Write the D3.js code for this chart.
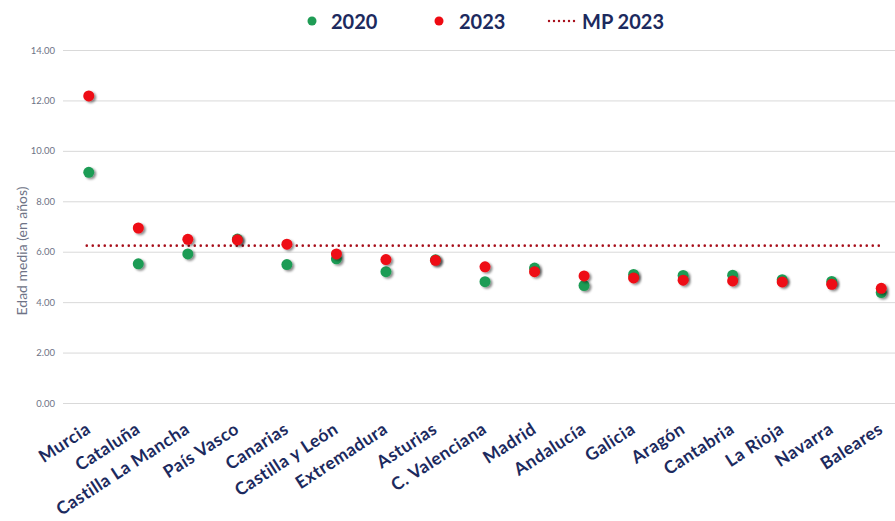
<!DOCTYPE html>
<html><head><meta charset="utf-8">
<script src="https://cdn.jsdelivr.net/npm/d3@7"></script>
<style>
html,body{margin:0;padding:0;background:#fff;}
svg{display:block;}
</style></head>
<body>
<svg id="chart" width="895" height="521"></svg>
<script>
const categories = ["Murcia","Cataluña","Castilla La Mancha","País Vasco","Canarias","Castilla y León","Extremadura","Asturias","C. Valenciana","Madrid","Andalucía","Galicia","Aragón","Cantabria","La Rioja","Navarra","Baleares"];
const values2020 = [9.15,5.52,5.91,6.50,5.49,5.72,5.21,5.68,4.81,5.35,4.66,5.10,5.06,5.07,4.89,4.82,4.38];
const values2023 = [12.18,6.94,6.49,6.47,6.30,5.91,5.69,5.66,5.40,5.21,5.04,4.96,4.87,4.84,4.80,4.71,4.55];
const mp2023 = 6.24;
const yTicks = [0,2,4,6,8,10,12,14];
const seriesNames = ["2020","2023","MP 2023"];

const svg = d3.select("#chart");
const W = 895, H = 521;
const mLeft = 64, mRight = 906, mTop = 50, mBottom = 403;

const defs = svg.append("defs");
const f = defs.append("filter").attr("id","sh").attr("x","-50%").attr("y","-50%").attr("width","200%").attr("height","200%");
f.append("feDropShadow").attr("dx",2).attr("dy",1.5).attr("stdDeviation",1.3).attr("flood-color","#000").attr("flood-opacity",0.45);

const x = d3.scaleBand().domain(categories).range([mLeft, mRight]).padding(0);
const y = d3.scaleLinear().domain([0,14]).range([mBottom, mTop]);
const cx = d => x(d) + x.bandwidth()/2;

// gridlines + y labels
const yAxis = d3.axisLeft(y).tickValues(yTicks).tickFormat(d3.format(".2f")).tickSize(-(W - 63)).tickPadding(8);
const gy = svg.append("g").attr("transform", `translate(63,0)`).call(yAxis);
gy.select(".domain").remove();
gy.selectAll(".tick line").attr("stroke","#d9d9d9").attr("stroke-width",1);
gy.selectAll(".tick text").attr("fill","#6e7386").style("font-family","Lato, sans-serif").style("font-size","9.5px");

// axis title
svg.append("text").attr("transform","translate(27,251) rotate(-90)").attr("text-anchor","middle")
  .attr("fill","#6e7386").style("font-family","Lato, sans-serif").style("font-size","14px").text("Edad media (en años)");

// x labels
const xAxis = d3.axisBottom(x).tickSize(0).tickPadding(0);
const gxa = svg.append("g").attr("transform",`translate(0,${mBottom})`).call(xAxis);
gxa.select(".domain").remove();
gxa.selectAll(".tick text")
  .attr("text-anchor","end").attr("dy",0).attr("y",0)
  .attr("transform","translate(3,29) rotate(-33)")
  .attr("fill","#1c2a5e").style("font-family","Lato, sans-serif").style("font-weight","bold")
  .style("font-size","17.5px").style("letter-spacing","0.5px");

// MP line
svg.append("line").attr("x1",cx(categories[0])-2).attr("x2",cx(categories[categories.length-1]))
  .attr("y1",y(mp2023)).attr("y2",y(mp2023))
  .attr("stroke","#a8101c").attr("stroke-width",2.6).attr("stroke-dasharray","0,6").attr("stroke-linecap","round");

// points
const r = 5.5;
svg.append("g").selectAll("circle").data(categories).join("circle")
  .attr("cx", d=>cx(d)).attr("cy",(d,i)=>y(values2020[i])).attr("r",r)
  .attr("fill","#1f9c55").attr("filter","url(#sh)");
svg.append("g").selectAll("circle").data(categories).join("circle")
  .attr("cx", d=>cx(d)).attr("cy",(d,i)=>y(values2023[i])).attr("r",r)
  .attr("fill","#ee0a12").attr("filter","url(#sh)");

// legend
const lg = svg.append("g").style("font-family","Lato, sans-serif").style("font-weight","bold").style("font-size","20px").attr("fill","#1c2a5e");
lg.append("circle").attr("cx",312).attr("cy",21).attr("r",4.5).attr("fill","#1f9c55");
lg.append("text").attr("x",331).attr("y",29).text(seriesNames[0]);
lg.append("circle").attr("cx",439).attr("cy",21).attr("r",4.5).attr("fill","#ee0a12");
lg.append("text").attr("x",459).attr("y",29).text(seriesNames[1]);
lg.append("line").attr("x1",549).attr("x2",579).attr("y1",21).attr("y2",21)
  .attr("stroke","#a8101c").attr("stroke-width",2.4).attr("stroke-dasharray","0,5").attr("stroke-linecap","round");
lg.append("text").attr("x",582).attr("y",29).text(seriesNames[2]);
</script>
</body></html>
